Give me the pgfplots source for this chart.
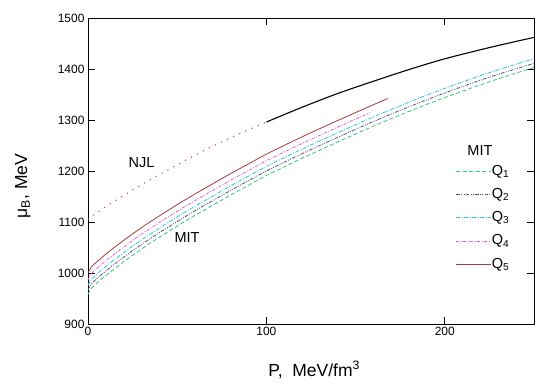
\documentclass[border=0pt]{standalone}
\usepackage{fontspec}
\setmainfont{Liberation Sans}
\usepackage{pgfplots}
\pgfplotsset{compat=1.18}
\definecolor{qone}{RGB}{50,200,110}
\definecolor{qtwo}{RGB}{85,75,135}
\definecolor{qthree}{RGB}{40,200,215}
\definecolor{qfour}{RGB}{225,90,225}
\definecolor{qfive}{RGB}{165,60,60}
\definecolor{njl}{RGB}{195,75,75}
\begin{document}
\begin{tikzpicture}
\begin{axis}[
  scale only axis, width=446pt, height=306pt,
  xmin=0, xmax=250, ymin=900, ymax=1500,
  xtick={0,100,200}, ytick={900,1000,...,1500},
  tick align=inside, major tick length=7pt,
  axis line style={line width=0.9pt}, every tick/.style={black, line width=0.8pt},
  /pgf/number format/assume math mode=true,
  /pgf/number format/set thousands separator={},
  tick label style={font=\fontsize{12}{14}\selectfont},
  xlabel={P,\ \ MeV/fm\textsuperscript{3}},
  ylabel={μ\textsubscript{B}, MeV},
  every axis x label/.style={at={(axis description cs:0.507,-0.150)}, anchor=center, font=\fontsize{17.5}{20}\selectfont},
  every axis y label/.style={at={(axis description cs:-0.146,0.451)}, rotate=90, anchor=center, font=\fontsize{17.5}{20}\selectfont},
  legend style={draw=none, fill=none, font=\fontsize{14.5}{16}\selectfont,
    at={(axis cs:204.5,1218)}, anchor=north west, legend cell align=left,
    row sep=9.3pt, nodes={inner sep=0pt, text height=11pt, text depth=3pt},
    /tikz/every even column/.append style={column sep=2pt}},
  legend image code/.code={\draw[#1] (0pt,0pt) -- (35pt,0pt);},
]
\addplot[qone, line width=0.8pt, dash pattern=on 4pt off 2.5pt, smooth] coordinates {
(0,958)(2,970)(5,980)(10,995)(20,1022)(30,1047)(40,1070)(50,1092)(60,1113)(70,1133)(80,1153)(90,1172)(100,1191)(120,1225)(140,1257)(160,1288)(180,1317)(200,1344)(225,1375)(250,1403)};
\addlegendentry{Q\textsubscript{1}}
\addplot[qtwo, line width=0.8pt, dash pattern=on 3.5pt off 1.3pt on 1pt off 1.3pt on 1pt off 1.3pt, smooth] coordinates {
(0,967)(2,979)(5,989)(10,1004)(20,1031)(30,1056)(40,1079)(50,1101)(60,1122)(70,1142)(80,1162)(90,1181)(100,1200)(120,1234)(140,1266)(160,1297)(180,1326)(200,1353)(225,1384)(250,1411)};
\addlegendentry{Q\textsubscript{2}}
\addplot[qthree, line width=0.8pt, dash pattern=on 4pt off 1.5pt on 1pt off 1.5pt, smooth] coordinates {
(0,976)(2,988)(5,998)(10,1013)(20,1040)(30,1065)(40,1088)(50,1110)(60,1131)(70,1151)(80,1171)(90,1190)(100,1209)(120,1243)(140,1275)(160,1306)(180,1335)(200,1362)(225,1393)(250,1420)};
\addlegendentry{Q\textsubscript{3}}
\addplot[qfour, line width=0.8pt, dash pattern=on 3pt off 1.5pt on 1pt off 1.5pt, smooth] coordinates {
(0,987)(2,999)(5,1009)(10,1024)(20,1051)(30,1076)(40,1099)(50,1121)(60,1142)(70,1162)(80,1182)(90,1201)(100,1220)(120,1254)(140,1286)(150,1302)(158,1314)};
\addlegendentry{Q\textsubscript{4}}
\addplot[qfive, line width=0.8pt, smooth] coordinates {
(0,1000)(2,1012)(5,1022)(10,1037)(20,1064)(30,1089)(40,1112)(50,1134)(60,1155)(70,1175)(80,1195)(90,1214)(100,1233)(120,1267)(140,1299)(160,1330)(168,1342)};
\addlegendentry{Q\textsubscript{5}}
\addplot[njl, line width=1.5pt, line cap=round, dash pattern=on 0.1pt off 6.6pt, smooth, forget plot] coordinates {
(0,1106)(10,1130)(20,1152)(30,1173)(40,1193)(50,1212)(60,1231)(70,1249)(80,1265)(90,1281)(100,1296)};
\addplot[black, line width=1.1pt, smooth, forget plot] coordinates {
(100,1296)(120,1325)(140,1352)(160,1376)(180,1399)(200,1420)(225,1442)(250,1462)};
\node[font=\fontsize{14.5}{16}\selectfont] at (axis cs:30,1215.7) {NJL};
\node[font=\fontsize{14.5}{16}\selectfont] at (axis cs:55.5,1069.6) {MIT};
\node[font=\fontsize{14.5}{16}\selectfont] at (axis cs:219.7,1240) {MIT};
\end{axis}
\path ([xshift=-88pt,yshift=-65pt]current axis.south west) rectangle ([xshift=16pt,yshift=18pt]current axis.north east);
\end{tikzpicture}
\end{document}
